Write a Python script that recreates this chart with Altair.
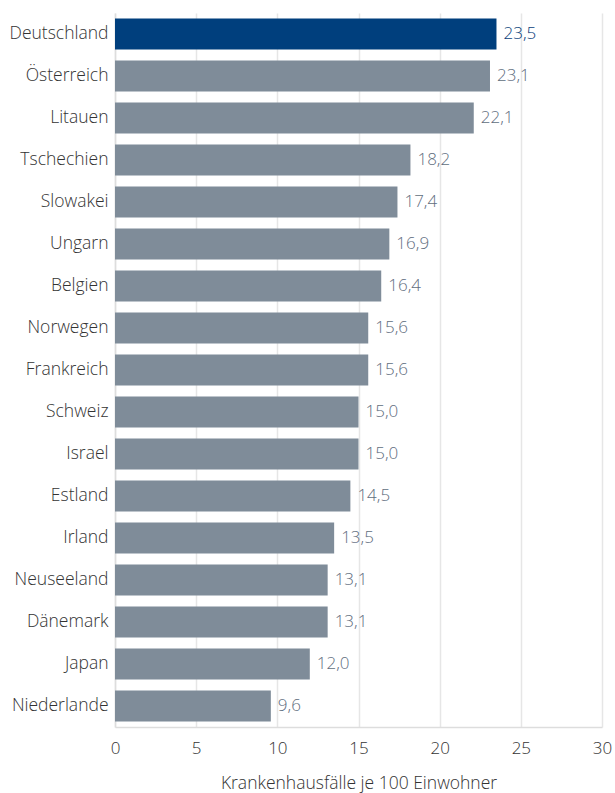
import altair as alt
import pandas as pd

countries = ["Deutschland", "Österreich", "Litauen", "Tschechien", "Slowakei", "Ungarn",
             "Belgien", "Norwegen", "Frankreich", "Schweiz", "Israel", "Estland", "Irland",
             "Neuseeland", "Dänemark", "Japan", "Niederlande"]
values = [23.5, 23.1, 22.1, 18.2, 17.4, 16.9, 16.4, 15.6, 15.6, 15.0, 15.0, 14.5, 13.5,
          13.1, 13.1, 12.0, 9.6]
highlight = ["Deutschland"]

df = pd.DataFrame({"land": countries, "wert": values})
df["hl"] = df["land"].isin(highlight).map({True: "ja", False: "nein"})
df["label"] = df["wert"].map(lambda v: f"{v:.1f}".replace(".", ","))

FONT = "Open Sans"

base = alt.Chart(df).encode(
    y=alt.Y("land:N", sort=countries, title=None,
            scale=alt.Scale(paddingInner=0.26, paddingOuter=0.13),
            axis=alt.Axis(labelFontSize=17.5, labelColor="#333333", labelFont=FONT,
                          labelFontWeight=300,
                          ticks=False, labelPadding=7, domainColor="#dddddd",
                          domainWidth=1.5)),
)

bars = base.mark_bar().encode(
    x=alt.X("wert:Q", scale=alt.Scale(domain=[0, 30]), title="Krankenhausfälle je 100 Einwohner",
            axis=alt.Axis(values=[0, 5, 10, 15, 20, 25, 30], ticks=False, labelFontSize=17,
                          labelColor="#333333", labelFont=FONT, labelFontWeight=300,
                          labelPadding=13, labelFlush=False,
                          titleFontSize=17.5, titleFont=FONT, titleColor="#333333",
                          titleFontWeight=300, titlePadding=18,
                          grid=True, gridColor="#e6e6e6", gridWidth=1.5,
                          domainColor="#dddddd", domainWidth=1.5)),
    color=alt.Color("hl:N", scale=alt.Scale(domain=["ja", "nein"], range=["#003f7d", "#7f8c99"]),
                    legend=None),
)

labels = base.mark_text(align="left", baseline="middle", dx=7, fontSize=17, font=FONT,
                        fontWeight=300).encode(
    x=alt.X("wert:Q"),
    text="label:N",
    color=alt.Color("hl:N", scale=alt.Scale(domain=["ja", "nein"], range=["#0a3e7a", "#5f6e80"]),
                    legend=None),
)

chart = alt.layer(bars, labels).resolve_scale(color="independent").properties(
    width=487, height=714,
    autosize=alt.AutoSizeParams(type="none"),
    padding={"left": 115, "top": 13, "right": 13, "bottom": 66},
).configure_view(stroke=None)

chart.save("out.html", embed_options={"renderer": "svg", "actions": False})
